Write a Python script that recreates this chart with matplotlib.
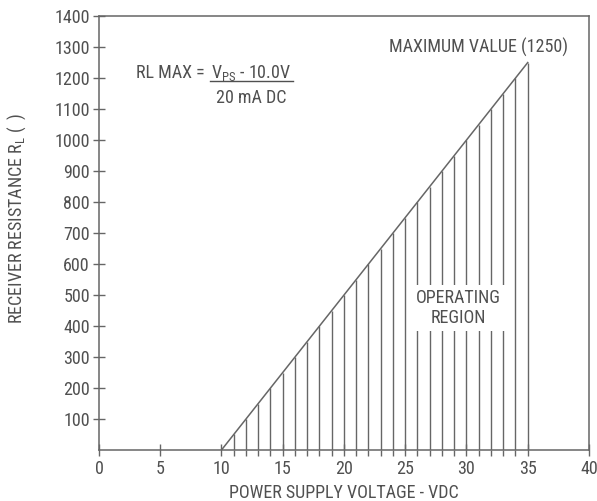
import matplotlib.pyplot as plt

# boundary of operating region: RL MAX = (Vps - 10.0V) / 20 mA
boundary_v = [10, 35]
boundary_r = [0, 1250]

# hatch lines at each volt
hatch_v = [11, 12, 13, 14, 15, 16, 17, 18, 19, 20, 21, 22, 23, 24, 25,
           26, 27, 28, 29, 30, 31, 32, 33, 34, 35]
hatch_r = [50, 100, 150, 200, 250, 300, 350, 400, 450, 500, 550, 600, 650, 700, 750,
           800, 850, 900, 950, 1000, 1050, 1100, 1150, 1200, 1250]

x_ticks = [0, 5, 10, 15, 20, 25, 30, 35, 40]
y_ticks = [100, 200, 300, 400, 500, 600, 700, 800, 900, 1000, 1100, 1200, 1300, 1400]

plt.rcParams['font.family'] = ['Roboto Condensed', 'Liberation Sans', 'DejaVu Sans']
plt.rcParams['mathtext.fontset'] = 'custom'
plt.rcParams['mathtext.rm'] = 'Roboto Condensed'
ink = '#505050'
line_c = '#666666'
fs = 13

fig = plt.figure(figsize=(5.97, 5.01), dpi=100)
ax = fig.add_axes([0.1658, 0.1018, 0.8208, 0.8662])

ax.plot(boundary_v, boundary_r, color=line_c, lw=1.1)
ax.vlines(hatch_v, 0, hatch_r, color=line_c, lw=1.0)

ax.set_xlim(0, 40)
ax.set_ylim(0, 1400)
ax.set_xticks(x_ticks)
ax.set_yticks(y_ticks)
ax.set_xticks(hatch_v, minor=True)
ax.tick_params(axis='both', which='major', direction='inout', length=9, width=1.0,
               color=line_c, labelcolor=ink, labelsize=fs, pad=2)
ax.tick_params(axis='x', which='minor', direction='out', length=4, width=1.0, color=line_c)
ax.tick_params(axis='x', which='major', pad=3)
for s in ax.spines.values():
    s.set_color(line_c)
    s.set_linewidth(1.1)

ax.set_xlabel('POWER SUPPLY VOLTAGE - VDC', color=ink, fontsize=fs, labelpad=4)
ax.set_ylabel('RECEIVER RESISTANCE R$_\\mathregular{L}$ (  )', color=ink, fontsize=fs)
ax.yaxis.set_label_coords(-0.145, 0.535)

# formula
ax.text(8.95, 1216, 'RL MAX = ', ha='right', va='center', color=ink, fontsize=fs)
ax.text(12.45, 1216, 'V$_\\mathregular{PS}$ - 10.0V', ha='center', va='center', color=ink, fontsize=fs)
ax.plot([9.06, 15.84], [1190, 1190], color=ink, lw=1.0)
ax.text(12.45, 1135, '20 mA DC', ha='center', va='center', color=ink, fontsize=fs)

ax.text(31.0, 1298, 'MAXIMUM VALUE (1250)', ha='center', va='center', color=ink, fontsize=fs)

ax.text(29.3, 458, 'OPERATING\nREGION', ha='center', va='center', color=ink, fontsize=fs,
        linespacing=1.1, bbox=dict(facecolor='white', edgecolor='none', pad=3))

fig.savefig('out.png', dpi=100)
